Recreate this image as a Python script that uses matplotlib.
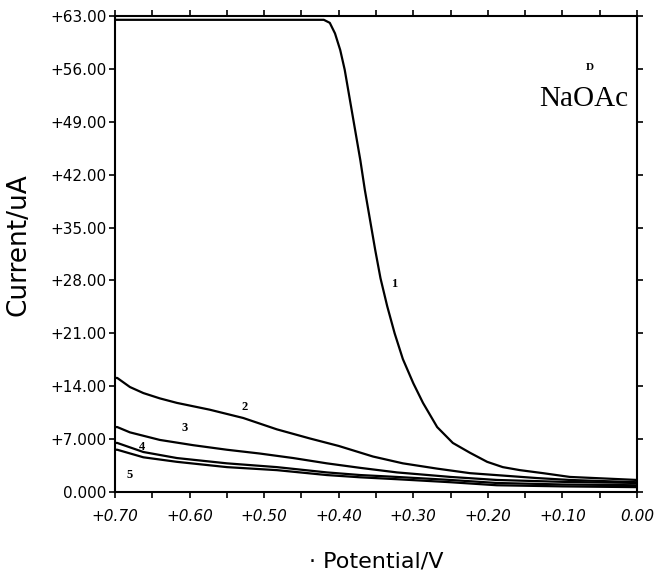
import matplotlib
matplotlib.use("Agg")
import matplotlib.pyplot as plt
from matplotlib.ticker import MultipleLocator

# ---- data ----
pot1 = [0.70, 0.42, 0.412, 0.405, 0.398, 0.392, 0.385, 0.378, 0.371, 0.365, 0.358,
        0.351, 0.344, 0.335, 0.325, 0.314, 0.300, 0.287, 0.268, 0.247, 0.224,
        0.201, 0.180, 0.157, 0.126, 0.090, 0.045, 0.0]
cur1 = [62.5, 62.5, 62.1, 60.7, 58.5, 55.9, 51.9, 47.9, 43.9, 40.0, 36.0,
        32.0, 28.3, 24.6, 21.0, 17.6, 14.4, 11.8, 8.6, 6.5, 5.2,
        4.0, 3.3, 2.9, 2.5, 2.0, 1.8, 1.6]

pot2 = [0.70, 0.697, 0.68, 0.662, 0.64, 0.617, 0.573, 0.528, 0.483, 0.439, 0.40,
        0.354, 0.314, 0.268, 0.224, 0.134, 0.09, 0.0]
cur2 = [15.1, 15.1, 13.9, 13.1, 12.4, 11.8, 10.9, 9.8, 8.3, 7.1, 6.1,
        4.7, 3.8, 3.1, 2.5, 1.85, 1.6, 1.3]

pot3 = [0.70, 0.697, 0.68, 0.64, 0.595, 0.55, 0.506, 0.461, 0.416, 0.371,
        0.322, 0.25, 0.188, 0.10, 0.0]
cur3 = [8.6, 8.6, 7.9, 6.9, 6.2, 5.6, 5.1, 4.5, 3.8, 3.2,
        2.6, 2.0, 1.6, 1.35, 1.2]

pot4 = [0.70, 0.697, 0.662, 0.617, 0.55, 0.483, 0.416, 0.371, 0.322, 0.25, 0.188, 0.10, 0.0]
cur4 = [6.5, 6.5, 5.3, 4.5, 3.8, 3.3, 2.6, 2.25, 2.0, 1.6, 1.2, 1.0, 0.9]

pot5 = [0.70, 0.697, 0.662, 0.617, 0.55, 0.483, 0.416, 0.371, 0.322, 0.25, 0.188, 0.10, 0.0]
cur5 = [5.6, 5.6, 4.6, 4.0, 3.3, 2.9, 2.25, 1.95, 1.7, 1.3, 0.9, 0.75, 0.65]

curve_labels = ["1", "2", "3", "4", "5"]
label_pot = [0.325, 0.526, 0.606, 0.664, 0.68]
label_cur = [27.6, 11.2, 8.5, 6.0, 2.2]

ytick_vals = [0, 7, 14, 21, 28, 35, 42, 49, 56, 63]
ytick_labels = ["0.000", "+7.000", "+14.00", "+21.00", "+28.00", "+35.00",
                "+42.00", "+49.00", "+56.00", "+63.00"]
xtick_vals = [0.70, 0.60, 0.50, 0.40, 0.30, 0.20, 0.10, 0.00]
xtick_labels = ["+0.70", "+0.60", "+0.50", "+0.40", "+0.30", "+0.20", "+0.10", "0.00"]

# ---- figure ----
fig = plt.figure(figsize=(6.58, 5.83), dpi=100)
ax = fig.add_axes([0.1748, 0.156, 0.7933, 0.8165])

for p, c in [(pot1, cur1), (pot2, cur2), (pot3, cur3), (pot4, cur4), (pot5, cur5)]:
    ax.plot(p, c, color="black", lw=1.6, solid_joinstyle="round")

for t, px, cy in zip(curve_labels, label_pot, label_cur):
    ax.text(px, cy, t, fontsize=9, fontweight="bold", family="Liberation Serif",
            ha="center", va="center")

ax.text(0.063, 56.2, "D", fontsize=8, family="Liberation Serif", fontweight="bold",
        ha="center", va="center")
ax.text(0.072, 52.0, "NaOAc", fontsize=21, family="Liberation Serif",
        ha="center", va="center")

ax.set_xlim(0.70, 0.0)
ax.set_ylim(0, 63)

ax.set_yticks(ytick_vals)
ax.set_yticklabels(ytick_labels, fontsize=11, family="DejaVu Sans")
ax.set_xticks(xtick_vals)
ax.set_xticklabels(xtick_labels, fontsize=11, family="DejaVu Sans", style="italic")
ax.xaxis.set_minor_locator(MultipleLocator(0.05))

ax.tick_params(axis="both", which="both", direction="out", length=4, width=1.2,
               top=True, right=True, labeltop=False, labelright=False)
ax.tick_params(axis="x", which="major", pad=8)
ax.tick_params(axis="y", which="major", pad=2)

for s in ax.spines.values():
    s.set_linewidth(1.5)

ax.set_ylabel("Current/uA", fontsize=19, family="DejaVu Sans")
ax.yaxis.set_label_coords(-0.16, 0.52)
ax.set_xlabel("\u00b7 Potential/V", fontsize=16, family="DejaVu Sans")
ax.xaxis.set_label_coords(0.5, -0.125)

fig.savefig("out.png", dpi=100)
